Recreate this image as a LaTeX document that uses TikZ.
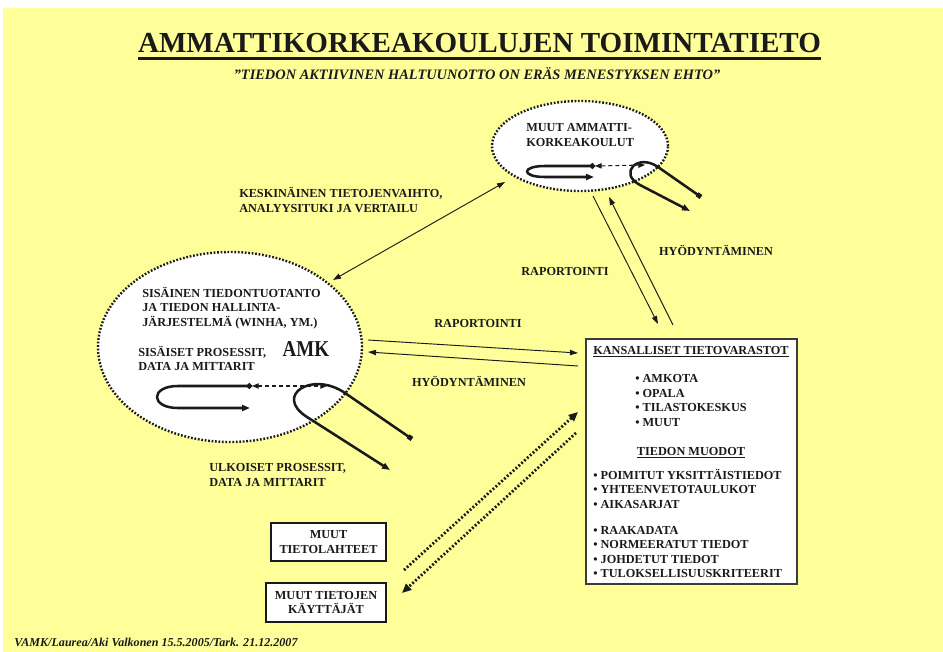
\documentclass[tikz,border=0pt]{standalone}
\usepackage{fontspec}
\setmainfont{Liberation Serif}
\usetikzlibrary{shapes.geometric,arrows.meta}
\definecolor{paper}{HTML}{FFFF99}
\definecolor{ink}{HTML}{1A1A1A}

\begin{document}
\begin{tikzpicture}[x=0.75pt,y=-0.75pt,
  every node/.style={inner sep=0pt, text=ink, font=\bfseries\fontsize{9.2}{10.9}\selectfont},
  cloud/.style={ellipse, fill=white, draw=ink, line width=1.8pt, dash pattern=on 1.3pt off 1.3pt},
  plainbox/.style={draw=ink, fill=white, line width=0.9pt},
  label/.style={align=left, anchor=west},
  flow/.style={draw=ink, line width=0.7pt, -{Triangle[length=6pt,width=4pt]}},
  loop/.style={draw=ink, line width=1.9pt, line join=round},
  link/.style={draw=ink, line width=0.8pt, dash pattern=on 3pt off 2.2pt,
    {Triangle[length=5pt,width=4pt]}-{Triangle[length=5pt,width=4pt]}},
  dotflow/.style={draw=ink, line width=2.1pt, dash pattern=on 1.4pt off 1.5pt,
    -{Triangle[length=7pt,width=6pt]}},
]
% page and background
\useasboundingbox (0,0) rectangle (943,652);
\fill[white] (0,0) rectangle (943,652);
\fill[paper] (3,8) rectangle (943,652);

% heading
\node[anchor=base, font=\bfseries\fontsize{21.8}{24}\selectfont] (title) at (479.5,53)
  {AMMATTIKORKEAKOULUJEN TOIMINTATIETO};
\draw[ink, line width=2.3pt] ([yshift=-4.2pt]title.base west) -- ([yshift=-4.2pt]title.base east);
\node[anchor=base, font=\bfseries\itshape\fontsize{10.8}{12}\selectfont] (motto) at (477,80)
  {”TIEDON AKTIIVINEN HALTUUNOTTO ON ERÄS MENESTYKSEN EHTO”};

% other universities of applied sciences
\node[cloud, minimum width=132pt, minimum height=67.5pt] (other) at (580,146) {};
\node[label] (otherT) at (526,135) {MUUT AMMATTI-\\KORKEAKOULUT};

% own organisation
\node[cloud, minimum width=198pt, minimum height=142.5pt] (amk) at (230,347) {};
\node[label] (amkT1) at (142,308) {SISÄINEN TIEDONTUOTANTO\\JA TIEDON HALLINTA-\\JÄRJESTELMÄ (WINHA, YM.)};
\node[label] (amkT2) at (138,358.5) {SISÄISET PROSESSIT,\\DATA JA MITTARIT};
\node[font=\bfseries\fontsize{17}{20}\selectfont] (amkN) at (306,349) {\scalebox{0.84}[1]{AMK}};

% national data stores
\node[draw=ink!85, fill=white, line width=0.8pt, minimum width=158.25pt, minimum height=183.75pt] (store) at (691.5,461.5) {};
\node (storeH) at (691,352) {\underline{KANSALLISET TIETOVARASTOT}};
\node[label] (storeL1) at (635,400.5) {• AMKOTA\\• OPALA\\• TILASTOKESKUS\\• MUUT};
\node (formH) at (691,453) {\underline{TIEDON MUODOT}};
\node[label] (storeL2) at (593,488.5) {• POIMITUT YKSITTÄISTIEDOT\\• YHTEENVETOTAULUKOT\\• AIKASARJAT};
\node[label] (storeL3) at (593,552) {• RAAKADATA\\• NORMEERATUT TIEDOT\\• JOHDETUT TIEDOT\\• TULOKSELLISUUSKRITEERIT};

% other sources and users
\node[plainbox, minimum width=86.25pt, minimum height=28.5pt, align=center] (src) at (328.5,542) {MUUT\\TIETOLAHTEET};
\node[plainbox, minimum width=90pt, minimum height=29.25pt, align=center] (usr) at (326,602.5) {MUUT TIETOJEN\\KÄYTTÄJÄT};

% connector labels
\node[label] (lblX) at (239,200) {KESKINÄINEN TIETOJENVAIHTO,\\ANALYYSITUKI JA VERTAILU};
\node (lblR1) at (565,272) {RAPORTOINTI};
\node (lblH1) at (716,250) {HYÖDYNTÄMINEN};
\node (lblR2) at (478,323) {RAPORTOINTI};
\node (lblH2) at (469,381) {HYÖDYNTÄMINEN};
\node[label] (lblU) at (209,475) {ULKOISET PROSESSIT,\\DATA JA MITTARIT};

% connector end points
\coordinate (xA) at (333,280);
\coordinate (xB) at (505,182);
\coordinate (r1s) at (593,196);
\coordinate (r1e) at (658,324);
\coordinate (h1s) at (673,325);
\coordinate (h1e) at (609,197);
\coordinate (r2s) at (368,340);
\coordinate (r2e) at (578,353);
\coordinate (h2s) at (578,366);
\coordinate (h2e) at (368,352);
\coordinate (d1s) at (404,570);
\coordinate (d1e) at (578,412);
\coordinate (d2s) at (576,433);
\coordinate (d2e) at (402,593);

% exchanges
\draw[flow, {Triangle[length=6pt,width=4pt]}-{Triangle[length=6pt,width=4pt]}] (xA) -- (xB);
\draw[flow] (r1s) -- (r1e);
\draw[flow] (h1s) -- (h1e);
\draw[flow] (r2s) -- (r2e);
\draw[flow] (h2s) -- (h2e);
\draw[dotflow] (d1s) -- (d1e);
\draw[dotflow] (d2s) -- (d2e);

% process loops, other universities
\coordinate (oA) at (595,166);
\coordinate (oB) at (594,177);
\coordinate (oC) at (645,165);
\coordinate (oS) at (701,197);
\coordinate (oE) at (690,211);
\draw[loop, {Circle[length=4pt]}-{Triangle[length=6pt,width=4.6pt]}]
  (oA) -- (545,166) .. controls (521,166) and (521,177) .. (545,177) -- (oB);
\draw[link] (oA) -- (oC);
\draw[loop, {Square[length=3.6pt,width=3.6pt]}-{Triangle[length=6pt,width=4.6pt]}]
  (oS) -- (658,167) .. controls (637.5,152.7) and (617.8,173.5) .. (640,185) -- (oE);

% process loops, own organisation
\coordinate (aA) at (252,386);
\coordinate (aB) at (250,408);
\coordinate (aC) at (327,386);
\coordinate (aS) at (412,439);
\coordinate (aE) at (390,470);
\draw[loop, {Circle[length=4pt]}-{Triangle[length=6pt,width=4.6pt]}]
  (aA) -- (178,386) .. controls (150,386) and (150,408) .. (178,408) -- (aB);
\draw[link] (aA) -- (aC);
\draw[loop, {Square[length=3.6pt,width=3.6pt]}-{Triangle[length=6pt,width=4.6pt]}]
  (aS) -- (345,393) .. controls (312,370.4) and (273.3,395.5) .. (307,417) -- (aE);

% footer
\node[anchor=west, font=\bfseries\itshape\fontsize{9.05}{10}\selectfont] (foot) at (14,642)
  {VAMK/Laurea/Aki Valkonen 15.5.2005/Tark. 21.12.2007};
\end{tikzpicture}
\end{document}
